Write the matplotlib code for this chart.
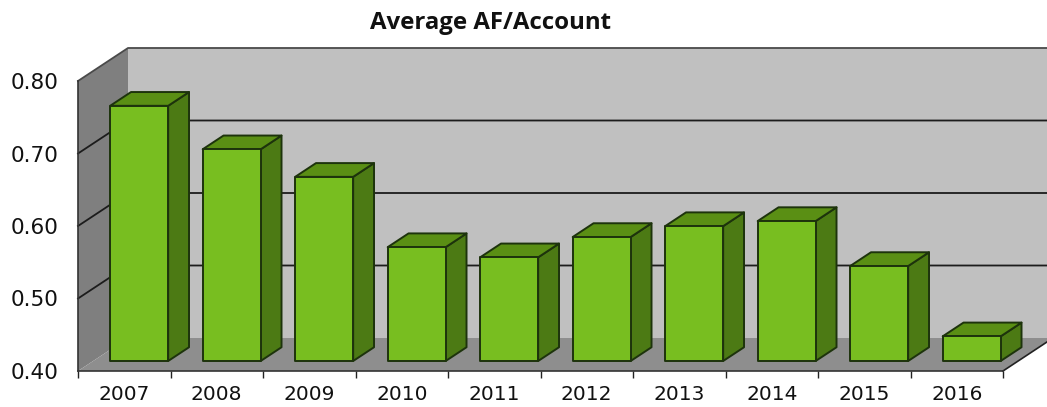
import matplotlib
matplotlib.use("Agg")
import matplotlib.pyplot as plt
from matplotlib.patches import Polygon

# datos
# ======================================================================================
years = ["2007", "2008", "2009", "2010", "2011", "2012", "2013", "2014", "2015", "2016"]
values = [0.752, 0.692, 0.654, 0.557, 0.543, 0.571, 0.586, 0.593, 0.531, 0.434]
y_ticks = [0.40, 0.50, 0.60, 0.70, 0.80]

W, H = 1047, 407
# shift of the back wall, in data units
DX = 50 / 92.5
DY = 33 / 725
BAR_W = 0.627
BAR_X = 0.184
BAR_D0 = 0.303
BAR_D1 = 0.72


def pr(x, v, d):
    return (x + d * DX, v + d * DY)


def poly(ax, pts, fc, ec="none", lw=0, z=1):
    ax.add_patch(Polygon(pts, closed=True, facecolor=fc, edgecolor=ec, linewidth=lw,
                         joinstyle="round", clip_on=False, zorder=z))


fig = plt.figure(figsize=(W / 100, H / 100), dpi=100)
ax = fig.add_axes([78 / W, 1 - 371 / H, 925 / W, 290 / H])
ax.set_xlim(0, len(years))
ax.set_ylim(y_ticks[0], y_ticks[-1])
ax.patch.set_alpha(0)

lo, hi = y_ticks[0], y_ticks[-1]
n = len(years)

# paredes y piso
poly(ax, [pr(0, lo, 1), pr(n, lo, 1), pr(n, hi, 1), pr(0, hi, 1)], "#c0c0c0")
poly(ax, [pr(0, lo, 0), pr(0, lo, 1), pr(0, hi, 1), pr(0, hi, 0)], "#7f7f7f")
poly(ax, [pr(0, lo, 0), pr(n, lo, 0), pr(n, lo, 1), pr(0, lo, 1)], "#8e8e8e")

for t in y_ticks[1:]:
    xs, ys = zip(pr(0, t, 0), pr(0, t, 1), pr(n, t, 1))
    c = "#4a4a4a" if t == hi else "#1c1c1c"
    ax.plot(xs, ys, color=c, lw=1.3, clip_on=False, zorder=2)

# borde derecho del piso
xs, ys = zip(pr(n, lo, 0), pr(n, lo, 1))
ax.plot(xs, ys, color="#222222", lw=1.2, clip_on=False, zorder=2)

# barras
edge = "#1d330c"
for i, v in enumerate(values):
    x0 = i + BAR_X
    x1 = x0 + BAR_W
    poly(ax, [pr(x1, lo, BAR_D0), pr(x1, lo, BAR_D1), pr(x1, v, BAR_D1), pr(x1, v, BAR_D0)],
         "#4c7a14", edge, 1.4, 3)
    poly(ax, [pr(x0, v, BAR_D0), pr(x1, v, BAR_D0), pr(x1, v, BAR_D1), pr(x0, v, BAR_D1)],
         "#5a8f14", edge, 1.4, 3)
    poly(ax, [pr(x0, lo, BAR_D0), pr(x1, lo, BAR_D0), pr(x1, v, BAR_D0), pr(x0, v, BAR_D0)],
         "#78be20", edge, 1.4, 4)

# ejes
for s in ["top", "right"]:
    ax.spines[s].set_visible(False)
for s in ["left", "bottom"]:
    ax.spines[s].set_color("#333333")
    ax.spines[s].set_linewidth(1.2)
    ax.spines[s].set_zorder(5)

ax.set_xticks(range(n + 1))
ax.set_xticklabels([])
ax.tick_params(axis="x", which="major", length=5, width=1, color="#222222")
ax.set_xticks([i + 0.5 for i in range(n)], minor=True)
ax.set_xticklabels(years, minor=True, fontsize=14.5, color="#111111")
ax.tick_params(axis="x", which="minor", length=0, pad=10)
ax.set_yticks(y_ticks)
ax.set_yticklabels([f"{t:.2f}" for t in y_ticks], fontsize=15.5, color="#111111")
ax.tick_params(axis="y", length=0, pad=14)

fig.text(491 / W, 1 - 23 / H, "Average AF/Account", ha="center", va="center",
         fontsize=17.3, fontweight="bold", family="Open Sans", color="#111111")

fig.savefig("out.png", dpi=100)
